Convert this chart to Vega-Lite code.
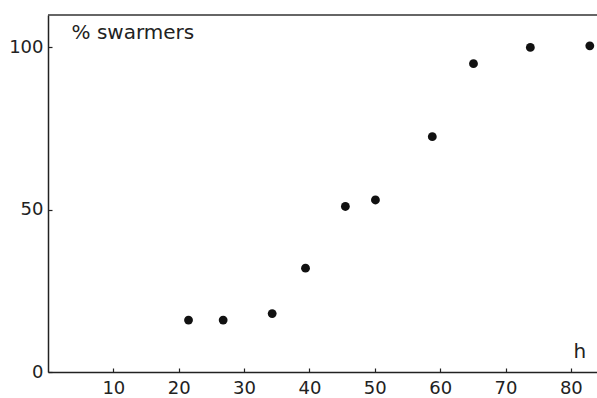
{
  "$schema": "https://vega.github.io/schema/vega-lite/v6.json",
  "width": 549,
  "height": 357,
  "autosize": {"type": "none"},
  "padding": {"left": 48, "top": 15, "right": 0, "bottom": 26},
  "background": "white",
  "config": {
    "font": "DejaVu Sans",
    "view": {"stroke": null},
    "axis": {
      "title": null, "grid": false,
      "domainColor": "#222", "domainWidth": 1.5, "tickColor": "#222", "tickSize": -4, "tickWidth": 1.2,
      "labelFont": "DejaVu Sans", "labelFontSize": 18, "labelColor": "#222", "labelFlush": false
    }
  },
  "encoding": {
    "x": {
      "field": "h", "type": "quantitative",
      "scale": {"domain": [0, 84], "nice": false, "zero": false},
      "axis": {"values": [10, 20, 30, 40, 50, 60, 70, 80], "labelPadding": 11, "labelBaseline": "top"}
    },
    "y": {
      "field": "pct", "type": "quantitative",
      "scale": {"domain": [0, 110], "nice": false},
      "axis": {"values": [0, 50, 100], "labelPadding": 9}
    }
  },
  "layer": [
    {
      "data": {"values": [{"h": 84}]},
      "mark": {"type": "rule", "color": "white", "strokeWidth": 5},
      "encoding": {"y": {"value": 2}, "y2": {"value": 356}}
    },
    {
      "data": {"values": [{"pct": 110}]},
      "mark": {"type": "rule", "color": "#333", "strokeWidth": 1.5},
      "encoding": {"x": {"value": 0}, "x2": {"value": 549}}
    },
    {
      "data": {"values": [
        {"h": 21.5, "pct": 16},
        {"h": 26.8, "pct": 16},
        {"h": 34.3, "pct": 18},
        {"h": 39.4, "pct": 32},
        {"h": 45.5, "pct": 51},
        {"h": 50.1, "pct": 53},
        {"h": 58.8, "pct": 72.5},
        {"h": 65.1, "pct": 95},
        {"h": 73.8, "pct": 100},
        {"h": 82.9, "pct": 100.5}
      ]},
      "mark": {"type": "point", "filled": true, "shape": "circle", "size": 78, "color": "#111", "opacity": 1}
    },
    {
      "data": {"values": [
        {"h": 3.6, "pct": 104.5, "label": "% swarmers"},
        {"h": 80.4, "pct": 6.2, "label": "h"}
      ]},
      "mark": {"type": "text", "align": "left", "baseline": "middle", "font": "DejaVu Sans", "fontSize": 20, "color": "#222"},
      "encoding": {
        "text": {"field": "label"}
      }
    }
  ]
}
